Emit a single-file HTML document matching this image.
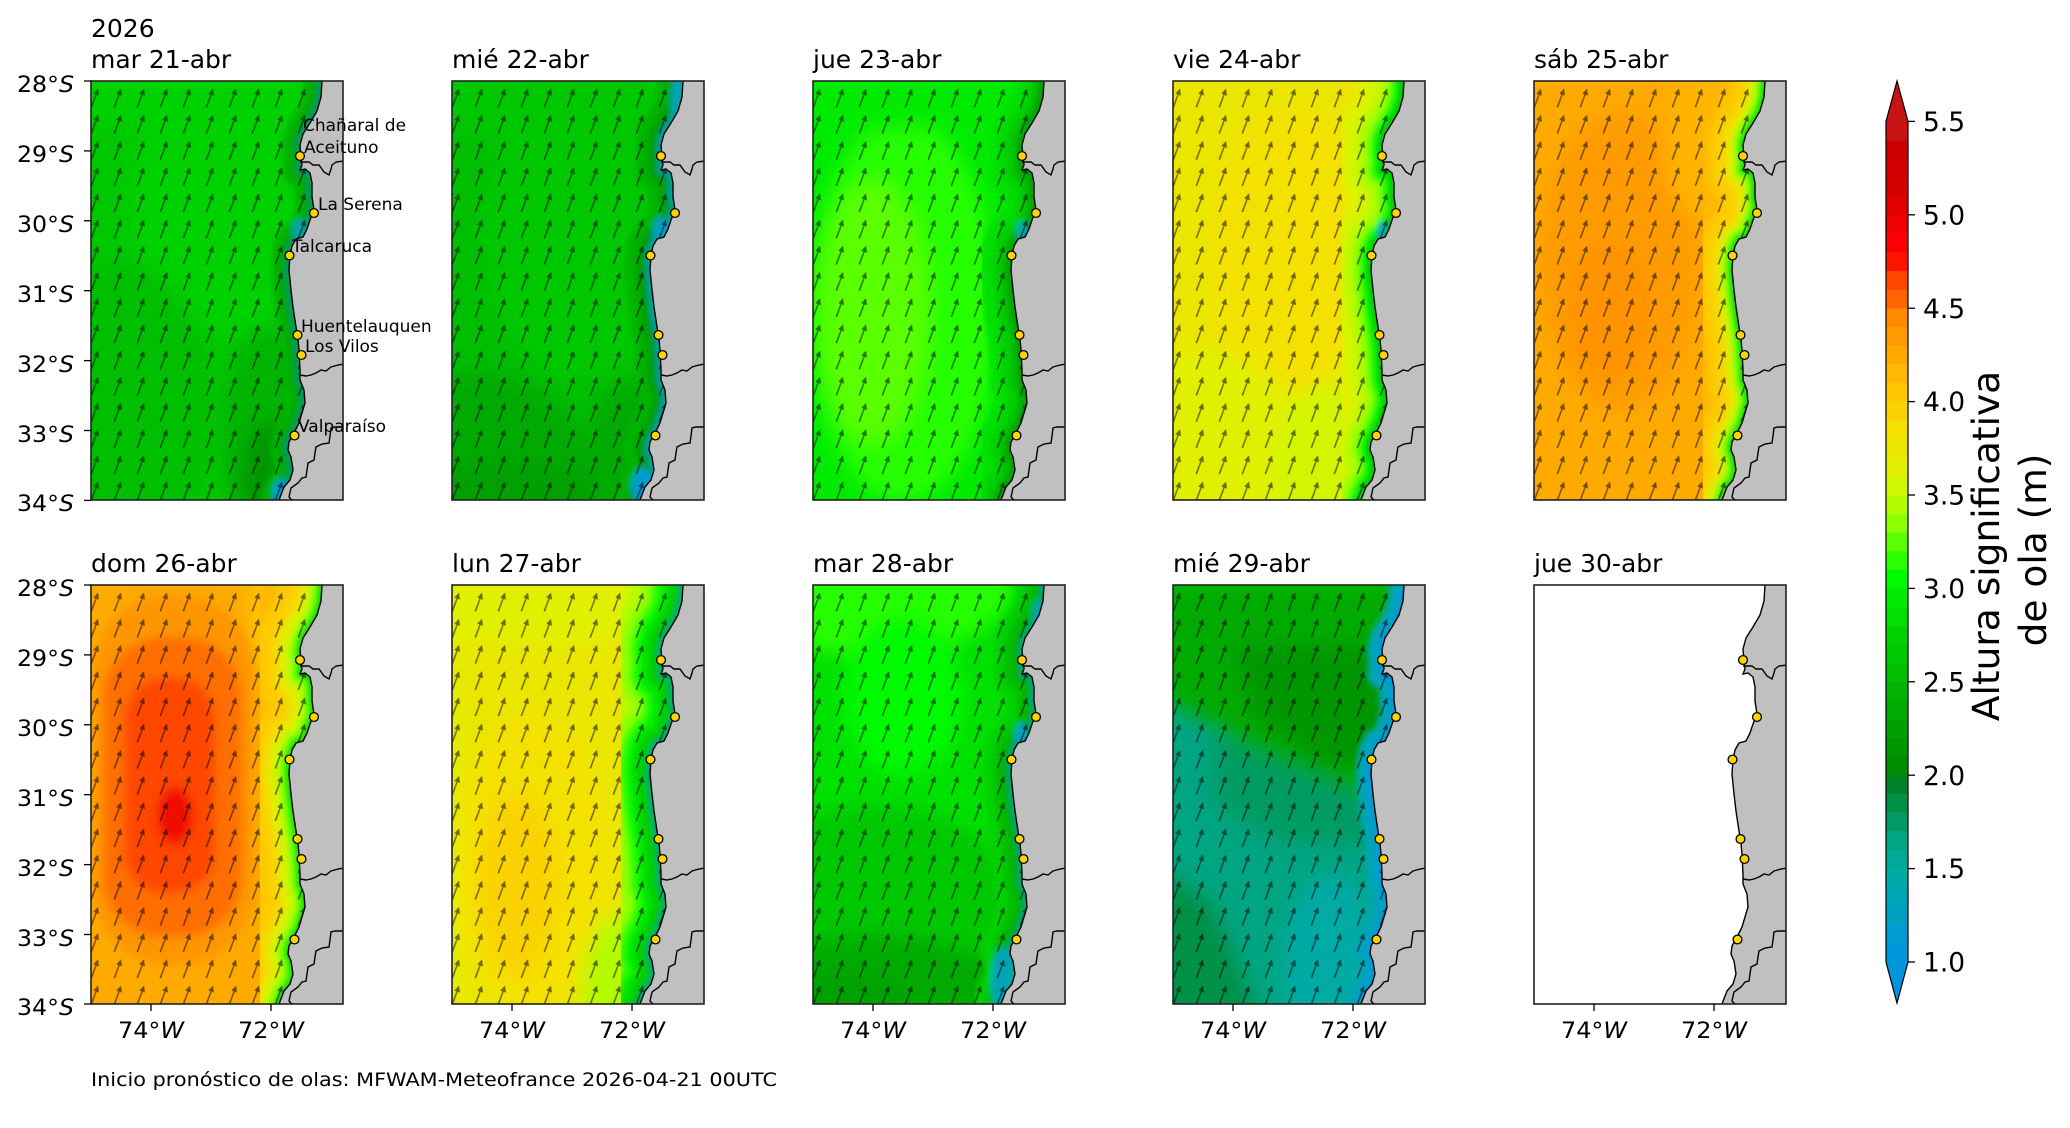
<!DOCTYPE html>
<html><head><meta charset="utf-8"><style>
html,body{margin:0;padding:0;background:#fff;}
svg{display:block;}
text{font-family:"DejaVu Sans","Liberation Sans",sans-serif;fill:#000;}
</style></head><body>
<svg width="2070" height="1128" viewBox="0 0 2070 1128" xmlns="http://www.w3.org/2000/svg">
<defs>
<clipPath id="cp"><rect x="0" y="0" width="252" height="419"/></clipPath>
<filter id="bl" x="-60%" y="-60%" width="220%" height="220%"><feGaussianBlur stdDeviation="10"/></filter>
<filter id="bm" x="-60%" y="-60%" width="220%" height="220%"><feGaussianBlur stdDeviation="5"/></filter>
<filter id="bs" x="-30%" y="-30%" width="160%" height="160%"><feGaussianBlur stdDeviation="3"/></filter>
<pattern id="ar" patternUnits="userSpaceOnUse" x="20.3" y="2" width="23" height="26.2">
<polygon points="2.25,24.02 7.14,11.32 5.04,10.55 9.7,5.5 10.68,12.61 8.35,11.87 3.75,24.58" fill="#000" fill-opacity="0.55"/>
</pattern>
<path id="cst" d="M233,-20 L231,0 L230,16 L226,30 L219,42 L212,53 L209,64 L210,76 L211,84 L209,89 L214,88 L219,92 L221,102 L221,116 L223,129 L219,139 L216,148 L212,156 L205,158 L201,165 L199,175 L198,189 L200,209 L202,226 L205,246 L207,258 L208,269 L209,289 L209,299 L213,309 L214,322 L211,332 L208,342 L203,352 L198,361 L197,369 L200,376 L202,389 L199,399 L193,406 L188,419 L184,440"/>
<path id="lnd" d="M233,-20 L231,0 L230,16 L226,30 L219,42 L212,53 L209,64 L210,76 L211,84 L209,89 L214,88 L219,92 L221,102 L221,116 L223,129 L219,139 L216,148 L212,156 L205,158 L201,165 L199,175 L198,189 L200,209 L202,226 L205,246 L207,258 L208,269 L209,289 L209,299 L213,309 L214,322 L211,332 L208,342 L203,352 L198,361 L197,369 L200,376 L202,389 L199,399 L193,406 L188,419 L184,440 L280,440 L280,-20 Z"/>
<path id="brd" d="M209,81 L218,81 L222,84 L228,84 L233,91 L238,94 L240,88 L241,84 L245,81 L253,80 M209,294 L215,295 L220,294 L225,292 L230,289 L235,290 L240,286 L247,284 L253,283 M253,346 L244,346 L240,347 L239,355 L238,362 L231,363 L225,366 L224,372 L223,379 L217,382 L216,389 L215,396 L211,397 L207,402 L200,407 L198,416 L202,420"/>
<g id="ovl">
<use href="#lnd" fill="#c0c0c0"/>
<use href="#cst" fill="none" stroke="#000" stroke-width="1.4"/>
<use href="#brd" fill="none" stroke="#000" stroke-width="1.4"/>
<g fill="#ffd400" stroke="#000" stroke-width="1.3">
<circle cx="209" cy="75" r="4.4"/>
<circle cx="223" cy="132" r="4.4"/>
<circle cx="198.5" cy="174.5" r="4.4"/>
<circle cx="206.5" cy="254" r="4.4"/>
<circle cx="210.5" cy="274" r="4.4"/>
<circle cx="203.5" cy="354.5" r="4.4"/>
</g>
</g>
<rect id="arw" x="0" y="0" width="252" height="419" fill="url(#ar)"/>
<rect id="frm" x="0" y="0" width="252" height="419" fill="none" stroke="#222" stroke-width="1.6"/>
</defs>

<!-- ============ Row 1 ============ -->
<!-- Panel 1 -->
<g transform="translate(91,81)">
<g clip-path="url(#cp)">
<rect width="252" height="419" fill="#00c800"/>
<g filter="url(#bl)">
<ellipse cx="140" cy="120" rx="100" ry="130" fill="#00d200"/>
<ellipse cx="100" cy="5" rx="160" ry="40" fill="#00d200"/>
<ellipse cx="30" cy="330" rx="90" ry="150" fill="#00be00"/>
<ellipse cx="175" cy="360" rx="45" ry="110" fill="#00b400"/>
<ellipse cx="180" cy="400" rx="30" ry="60" fill="#009600"/>
</g>
<g fill="none" stroke-linejoin="round" filter="url(#bs)">
<use href="#cst" stroke="#00b400" stroke-width="36"/>
<use href="#cst" stroke="#00a000" stroke-width="18"/>
<use href="#cst" stroke="#009b64" stroke-width="8"/>
<ellipse cx="208" cy="148" rx="6" ry="10" fill="#00a5b4"/>
<ellipse cx="190" cy="412" rx="8" ry="14" fill="#009bd2"/>
</g>
<use href="#arw"/>
<use href="#ovl"/>
</g>
<use href="#frm"/>
</g>

<!-- Panel 2 -->
<g transform="translate(452,81)">
<g clip-path="url(#cp)">
<rect width="252" height="419" fill="#00be00"/>
<g filter="url(#bl)">
<ellipse cx="130" cy="150" rx="100" ry="150" fill="#00c800"/>
<ellipse cx="100" cy="10" rx="160" ry="50" fill="#00c800"/>
<ellipse cx="20" cy="400" rx="120" ry="110" fill="#00aa00"/>
<ellipse cx="60" cy="430" rx="120" ry="50" fill="#00a000"/>
<ellipse cx="175" cy="380" rx="40" ry="80" fill="#00aa00"/>
</g>
<g fill="none" stroke-linejoin="round" filter="url(#bs)">
<use href="#cst" stroke="#00b400" stroke-width="50"/>
<use href="#cst" stroke="#00a000" stroke-width="28"/>
<use href="#cst" stroke="#009146" stroke-width="12"/>
<use href="#cst" stroke="#00a5b4" stroke-width="6"/>
<ellipse cx="209" cy="150" rx="8" ry="14" fill="#00a0c3"/>
<ellipse cx="225" cy="20" rx="6" ry="25" fill="#00a5b4"/>
<ellipse cx="190" cy="405" rx="10" ry="18" fill="#009bd2"/>
</g>
<use href="#arw"/>
<use href="#ovl"/>
</g>
<use href="#frm"/>
</g>

<!-- Panel 3 -->
<g transform="translate(813,81)">
<g clip-path="url(#cp)">
<rect width="252" height="419" fill="#00eb00"/>
<g filter="url(#bl)">
<ellipse cx="90" cy="230" rx="95" ry="190" fill="#28ff00"/>
<ellipse cx="60" cy="230" rx="55" ry="130" fill="#5aff00"/>
<ellipse cx="60" cy="0" rx="150" ry="50" fill="#00eb00"/>
</g>
<g fill="none" stroke-linejoin="round" filter="url(#bs)">
<use href="#cst" stroke="#00e100" stroke-width="64"/>
<use href="#cst" stroke="#00d200" stroke-width="40"/>
<use href="#cst" stroke="#00be00" stroke-width="22"/>
<use href="#cst" stroke="#00a000" stroke-width="10"/>
<ellipse cx="209" cy="150" rx="5" ry="10" fill="#00a5b4"/>
</g>
<use href="#arw"/>
<use href="#ovl"/>
</g>
<use href="#frm"/>
</g>

<!-- Panel 4 -->
<g transform="translate(1173,81)">
<g clip-path="url(#cp)">
<rect width="252" height="419" fill="#ebe600"/>
<g filter="url(#bl)">
<ellipse cx="120" cy="170" rx="80" ry="140" fill="#f5e100"/>
<ellipse cx="30" cy="380" rx="110" ry="110" fill="#e1f000"/>
<ellipse cx="160" cy="400" rx="60" ry="100" fill="#d2f500"/>
</g>
<g fill="none" stroke-linejoin="round" filter="url(#bs)">
<use href="#cst" stroke="#e1f000" stroke-width="90"/>
<use href="#cst" stroke="#d2f500" stroke-width="70"/>
<use href="#cst" stroke="#b4fa00" stroke-width="50"/>
<use href="#cst" stroke="#8cff00" stroke-width="36"/>
<use href="#cst" stroke="#28ff00" stroke-width="26"/>
<use href="#cst" stroke="#00eb00" stroke-width="16"/>
<use href="#cst" stroke="#00c800" stroke-width="8"/>
<ellipse cx="209" cy="150" rx="5" ry="10" fill="#00a5b4"/>
</g>
<use href="#arw"/>
<use href="#ovl"/>
</g>
<use href="#frm"/>
</g>

<!-- Panel 5 -->
<g transform="translate(1534,81)">
<g clip-path="url(#cp)">
<rect width="252" height="419" fill="#ffaa00"/>
<g filter="url(#bl)">
<ellipse cx="85" cy="180" rx="80" ry="150" fill="#ff9b00"/>
<ellipse cx="75" cy="230" rx="40" ry="70" fill="#ff9300"/>
<ellipse cx="170" cy="60" rx="40" ry="80" fill="#ffb400"/>
</g>
<g fill="none" stroke-linejoin="round" filter="url(#bs)">
<use href="#cst" stroke="#ffb900" stroke-width="90"/>
<use href="#cst" stroke="#ffc800" stroke-width="70"/>
<use href="#cst" stroke="#fad200" stroke-width="52"/>
<use href="#cst" stroke="#ebe600" stroke-width="36"/>
<use href="#cst" stroke="#b4fa00" stroke-width="24"/>
<use href="#cst" stroke="#28ff00" stroke-width="14"/>
<use href="#cst" stroke="#00d200" stroke-width="6"/>
</g>
<use href="#arw"/>
<use href="#ovl"/>
</g>
<use href="#frm"/>
</g>

<!-- ============ Row 2 ============ -->
<!-- Panel 6 -->
<g transform="translate(91,585)">
<g clip-path="url(#cp)">
<rect width="252" height="419" fill="#ffaa00"/>
<g filter="url(#bl)">
<ellipse cx="200" cy="30" rx="40" ry="90" fill="#ffc800"/>
</g>
<g filter="url(#bm)">
<rect x="2" y="10" width="160" height="370" rx="75" fill="#ff9600"/>
<rect x="12" y="52" width="139" height="300" rx="60" fill="#ff6e00"/>
<rect x="34" y="93" width="90" height="215" rx="40" fill="#ff4600"/>
<ellipse cx="84" cy="231" rx="18" ry="29" fill="#f01000"/>
</g>
<g fill="none" stroke-linejoin="round" filter="url(#bs)">
<use href="#cst" stroke="#ffb900" stroke-width="120"/>
<use href="#cst" stroke="#ffc800" stroke-width="90"/>
<use href="#cst" stroke="#fad200" stroke-width="64"/>
<use href="#cst" stroke="#ebe600" stroke-width="48"/>
<use href="#cst" stroke="#d2f500" stroke-width="34"/>
<use href="#cst" stroke="#8cff00" stroke-width="22"/>
<use href="#cst" stroke="#28ff00" stroke-width="12"/>
<use href="#cst" stroke="#00d200" stroke-width="6"/>
</g>
<use href="#arw"/>
<use href="#ovl"/>
</g>
<use href="#frm"/>
</g>

<!-- Panel 7 -->
<g transform="translate(452,585)">
<g clip-path="url(#cp)">
<rect width="252" height="419" fill="#ebe600"/>
<g filter="url(#bl)">
<ellipse cx="80" cy="280" rx="75" ry="150" fill="#f5e100"/>
<ellipse cx="65" cy="300" rx="40" ry="90" fill="#fad200"/>
<ellipse cx="100" cy="0" rx="170" ry="60" fill="#e1f000"/>
<rect x="-20" y="0" width="25" height="419" fill="#e1f000"/>
<ellipse cx="165" cy="410" rx="35" ry="80" fill="#b4fa00"/>
</g>
<g fill="none" stroke-linejoin="round" filter="url(#bs)">
<use href="#cst" stroke="#e1f000" stroke-width="156"/>
<use href="#cst" stroke="#d2f500" stroke-width="128"/>
<use href="#cst" stroke="#b4fa00" stroke-width="102"/>
<use href="#cst" stroke="#8cff00" stroke-width="80"/>
<use href="#cst" stroke="#28ff00" stroke-width="62"/>
<use href="#cst" stroke="#00eb00" stroke-width="46"/>
<use href="#cst" stroke="#00d200" stroke-width="30"/>
<use href="#cst" stroke="#00be00" stroke-width="14"/>
<use href="#cst" stroke="#00a582" stroke-width="6"/>
</g>
<use href="#arw"/>
<use href="#ovl"/>
</g>
<use href="#frm"/>
</g>

<!-- Panel 8 -->
<g transform="translate(813,585)">
<g clip-path="url(#cp)">
<rect width="252" height="419" fill="#00e100"/>
<g filter="url(#bl)">
<ellipse cx="60" cy="0" rx="140" ry="70" fill="#28ff00"/>
<ellipse cx="90" cy="110" rx="60" ry="80" fill="#00fa00"/>
<ellipse cx="60" cy="330" rx="150" ry="110" fill="#00c800"/>
<ellipse cx="60" cy="410" rx="140" ry="60" fill="#00aa00"/>
<ellipse cx="20" cy="419" rx="80" ry="30" fill="#00a000"/>
</g>
<g fill="none" stroke-linejoin="round" filter="url(#bs)">
<use href="#cst" stroke="#00d200" stroke-width="56"/>
<use href="#cst" stroke="#00be00" stroke-width="36"/>
<use href="#cst" stroke="#00aa00" stroke-width="18"/>
<use href="#cst" stroke="#00a582" stroke-width="6"/>
<ellipse cx="190" cy="395" rx="12" ry="32" fill="#00a5b4"/>
<ellipse cx="208" cy="150" rx="6" ry="12" fill="#00a0c3"/>
<ellipse cx="225" cy="30" rx="5" ry="15" fill="#00a5b4"/>
</g>
<use href="#arw"/>
<use href="#ovl"/>
</g>
<use href="#frm"/>
</g>

<!-- Panel 9 -->
<g transform="translate(1173,585)">
<g clip-path="url(#cp)">
<rect width="252" height="419" fill="#00a582"/>
<g filter="url(#bl)">
<rect x="-20" y="-20" width="300" height="70" fill="#00be00"/>
<polygon points="-20,0 260,0 260,210 200,215 120,200 40,140 -20,110" fill="#00aa00"/>
<polygon points="60,60 230,60 230,190 150,180 80,130" fill="#009600"/>
<polygon points="40,150 200,215 200,260 100,255 40,220" fill="#009b64"/>
<polygon points="-20,280 40,320 90,440 -20,440" fill="#009146"/>
<ellipse cx="160" cy="380" rx="50" ry="90" fill="#00aaa5"/>
</g>
<g fill="none" stroke-linejoin="round" filter="url(#bs)">
<use href="#cst" stroke="#00a5b4" stroke-width="30"/>
<use href="#cst" stroke="#009bd2" stroke-width="12"/>
</g>
<use href="#arw"/>
<use href="#ovl"/>
</g>
<use href="#frm"/>
</g>

<!-- Panel 10 -->
<g transform="translate(1534,585)">
<g clip-path="url(#cp)">
<rect width="252" height="419" fill="#ffffff"/>
<use href="#ovl"/>
</g>
<use href="#frm"/>
</g>

<!-- ============ Titles ============ -->
<g font-size="25">
<text x="91" y="37">2026</text>
<text x="91" y="68">mar 21-abr</text>
<text x="452" y="68">mié 22-abr</text>
<text x="813" y="68">jue 23-abr</text>
<text x="1173" y="68">vie 24-abr</text>
<text x="1534" y="68">sáb 25-abr</text>
<text x="91" y="572">dom 26-abr</text>
<text x="452" y="572">lun 27-abr</text>
<text x="813" y="572">mar 28-abr</text>
<text x="1173" y="572">mié 29-abr</text>
<text x="1534" y="572">jue 30-abr</text>
</g>

<!-- Station labels -->
<g font-size="17">
<text x="303" y="131">Chañaral de</text>
<text x="304" y="153">Aceituno</text>
<text x="318" y="210">La Serena</text>
<text x="292" y="252">Talcaruca</text>
<text x="301" y="332">Huentelauquen</text>
<text x="305" y="352">Los Vilos</text>
<text x="298" y="432">Valparaíso</text>
</g>

<!-- Y ticks -->
<g stroke="#000" stroke-width="1.3">
<line x1="84" y1="81" x2="91" y2="81"/><line x1="84" y1="150.9" x2="91" y2="150.9"/><line x1="84" y1="220.8" x2="91" y2="220.8"/><line x1="84" y1="290.7" x2="91" y2="290.7"/><line x1="84" y1="360.6" x2="91" y2="360.6"/><line x1="84" y1="430.5" x2="91" y2="430.5"/><line x1="84" y1="500.4" x2="91" y2="500.4"/>
<line x1="84" y1="585" x2="91" y2="585"/><line x1="84" y1="654.9" x2="91" y2="654.9"/><line x1="84" y1="724.8" x2="91" y2="724.8"/><line x1="84" y1="794.7" x2="91" y2="794.7"/><line x1="84" y1="864.6" x2="91" y2="864.6"/><line x1="84" y1="934.5" x2="91" y2="934.5"/><line x1="84" y1="1004" x2="91" y2="1004"/>
</g>
<g font-size="22">
<text x="17" y="92" textLength="57" lengthAdjust="spacingAndGlyphs">28°<tspan font-style="italic">S</tspan></text>
<text x="17" y="162" textLength="57" lengthAdjust="spacingAndGlyphs">29°<tspan font-style="italic">S</tspan></text>
<text x="17" y="232" textLength="57" lengthAdjust="spacingAndGlyphs">30°<tspan font-style="italic">S</tspan></text>
<text x="17" y="302" textLength="57" lengthAdjust="spacingAndGlyphs">31°<tspan font-style="italic">S</tspan></text>
<text x="17" y="372" textLength="57" lengthAdjust="spacingAndGlyphs">32°<tspan font-style="italic">S</tspan></text>
<text x="17" y="442" textLength="57" lengthAdjust="spacingAndGlyphs">33°<tspan font-style="italic">S</tspan></text>
<text x="17" y="511" textLength="57" lengthAdjust="spacingAndGlyphs">34°<tspan font-style="italic">S</tspan></text>
<text x="17" y="596" textLength="57" lengthAdjust="spacingAndGlyphs">28°<tspan font-style="italic">S</tspan></text>
<text x="17" y="666" textLength="57" lengthAdjust="spacingAndGlyphs">29°<tspan font-style="italic">S</tspan></text>
<text x="17" y="736" textLength="57" lengthAdjust="spacingAndGlyphs">30°<tspan font-style="italic">S</tspan></text>
<text x="17" y="806" textLength="57" lengthAdjust="spacingAndGlyphs">31°<tspan font-style="italic">S</tspan></text>
<text x="17" y="876" textLength="57" lengthAdjust="spacingAndGlyphs">32°<tspan font-style="italic">S</tspan></text>
<text x="17" y="946" textLength="57" lengthAdjust="spacingAndGlyphs">33°<tspan font-style="italic">S</tspan></text>
<text x="17" y="1015" textLength="57" lengthAdjust="spacingAndGlyphs">34°<tspan font-style="italic">S</tspan></text>
</g>

<!-- X ticks -->
<g stroke="#000" stroke-width="1.3">
<line x1="151" y1="1004" x2="151" y2="1011"/><line x1="271" y1="1004" x2="271" y2="1011"/>
<line x1="512" y1="1004" x2="512" y2="1011"/><line x1="632" y1="1004" x2="632" y2="1011"/>
<line x1="873" y1="1004" x2="873" y2="1011"/><line x1="993" y1="1004" x2="993" y2="1011"/>
<line x1="1233" y1="1004" x2="1233" y2="1011"/><line x1="1353" y1="1004" x2="1353" y2="1011"/>
<line x1="1594" y1="1004" x2="1594" y2="1011"/><line x1="1714" y1="1004" x2="1714" y2="1011"/>
</g>
<g font-size="22">
<text x="118" y="1038" textLength="66" lengthAdjust="spacingAndGlyphs">74°<tspan font-style="italic">W</tspan></text>
<text x="238" y="1038" textLength="66" lengthAdjust="spacingAndGlyphs">72°<tspan font-style="italic">W</tspan></text>
<text x="479" y="1038" textLength="66" lengthAdjust="spacingAndGlyphs">74°<tspan font-style="italic">W</tspan></text>
<text x="599" y="1038" textLength="66" lengthAdjust="spacingAndGlyphs">72°<tspan font-style="italic">W</tspan></text>
<text x="840" y="1038" textLength="66" lengthAdjust="spacingAndGlyphs">74°<tspan font-style="italic">W</tspan></text>
<text x="960" y="1038" textLength="66" lengthAdjust="spacingAndGlyphs">72°<tspan font-style="italic">W</tspan></text>
<text x="1200" y="1038" textLength="66" lengthAdjust="spacingAndGlyphs">74°<tspan font-style="italic">W</tspan></text>
<text x="1320" y="1038" textLength="66" lengthAdjust="spacingAndGlyphs">72°<tspan font-style="italic">W</tspan></text>
<text x="1561" y="1038" textLength="66" lengthAdjust="spacingAndGlyphs">74°<tspan font-style="italic">W</tspan></text>
<text x="1681" y="1038" textLength="66" lengthAdjust="spacingAndGlyphs">72°<tspan font-style="italic">W</tspan></text>
</g>

<!-- Footer -->
<text x="91" y="1086" font-size="18.75" textLength="686" lengthAdjust="spacingAndGlyphs">Inicio pronóstico de olas: MFWAM-Meteofrance 2026-04-21 00UTC</text>

<!-- ============ Colorbar ============ -->
<g>
<rect x="1886" y="943.32" width="22" height="18.9" fill="#0096dc"/>
<rect x="1886" y="924.64" width="22" height="18.9" fill="#009bd2"/>
<rect x="1886" y="905.96" width="22" height="18.9" fill="#00a0c3"/>
<rect x="1886" y="887.28" width="22" height="18.9" fill="#00a5b4"/>
<rect x="1886" y="868.6" width="22" height="18.9" fill="#00aaa5"/>
<rect x="1886" y="849.92" width="22" height="18.9" fill="#00aa96"/>
<rect x="1886" y="831.24" width="22" height="18.9" fill="#00a582"/>
<rect x="1886" y="812.56" width="22" height="18.9" fill="#009b64"/>
<rect x="1886" y="793.88" width="22" height="18.9" fill="#009146"/>
<rect x="1886" y="775.2" width="22" height="18.9" fill="#008228"/>
<rect x="1886" y="756.52" width="22" height="18.9" fill="#008c00"/>
<rect x="1886" y="737.84" width="22" height="18.9" fill="#009600"/>
<rect x="1886" y="719.16" width="22" height="18.9" fill="#00a000"/>
<rect x="1886" y="700.48" width="22" height="18.9" fill="#00aa00"/>
<rect x="1886" y="681.8" width="22" height="18.9" fill="#00b400"/>
<rect x="1886" y="663.12" width="22" height="18.9" fill="#00be00"/>
<rect x="1886" y="644.44" width="22" height="18.9" fill="#00c800"/>
<rect x="1886" y="625.76" width="22" height="18.9" fill="#00d200"/>
<rect x="1886" y="607.08" width="22" height="18.9" fill="#00e100"/>
<rect x="1886" y="588.4" width="22" height="18.9" fill="#00eb00"/>
<rect x="1886" y="569.72" width="22" height="18.9" fill="#00fa00"/>
<rect x="1886" y="551.04" width="22" height="18.9" fill="#28ff00"/>
<rect x="1886" y="532.36" width="22" height="18.9" fill="#5aff00"/>
<rect x="1886" y="513.68" width="22" height="18.9" fill="#8cff00"/>
<rect x="1886" y="495" width="22" height="18.9" fill="#b4fa00"/>
<rect x="1886" y="476.32" width="22" height="18.9" fill="#d2f500"/>
<rect x="1886" y="457.64" width="22" height="18.9" fill="#e1f000"/>
<rect x="1886" y="438.96" width="22" height="18.9" fill="#ebe600"/>
<rect x="1886" y="420.28" width="22" height="18.9" fill="#f5e100"/>
<rect x="1886" y="401.6" width="22" height="18.9" fill="#fad200"/>
<rect x="1886" y="382.92" width="22" height="18.9" fill="#ffc800"/>
<rect x="1886" y="364.24" width="22" height="18.9" fill="#ffb900"/>
<rect x="1886" y="345.56" width="22" height="18.9" fill="#ffaa00"/>
<rect x="1886" y="326.88" width="22" height="18.9" fill="#ff9b00"/>
<rect x="1886" y="308.2" width="22" height="18.9" fill="#ff8c00"/>
<rect x="1886" y="289.52" width="22" height="18.9" fill="#ff6400"/>
<rect x="1886" y="270.84" width="22" height="18.9" fill="#ff4600"/>
<rect x="1886" y="252.16" width="22" height="18.9" fill="#ff1400"/>
<rect x="1886" y="233.48" width="22" height="18.9" fill="#fa0000"/>
<rect x="1886" y="214.8" width="22" height="18.9" fill="#f00000"/>
<rect x="1886" y="196.12" width="22" height="18.9" fill="#e10000"/>
<rect x="1886" y="177.44" width="22" height="18.9" fill="#d70000"/>
<rect x="1886" y="158.76" width="22" height="18.9" fill="#d20000"/>
<rect x="1886" y="140.08" width="22" height="18.9" fill="#cd0000"/>
<rect x="1886" y="121.4" width="22" height="18.9" fill="#c81414"/>
<polygon points="1886,121.6 1908,121.6 1897,81" fill="#c81414"/>
<polygon points="1886,962 1908,962 1897,1003" fill="#0096dc"/>
<polygon points="1886,121.4 1897,81 1908,121.4 1908,962 1897,1003 1886,962" fill="none" stroke="#000" stroke-width="1.2"/>
</g>
<g stroke="#000" stroke-width="1.3">
<line x1="1908" y1="962" x2="1915" y2="962"/><line x1="1908" y1="868.6" x2="1915" y2="868.6"/><line x1="1908" y1="775.2" x2="1915" y2="775.2"/><line x1="1908" y1="681.8" x2="1915" y2="681.8"/><line x1="1908" y1="588.4" x2="1915" y2="588.4"/><line x1="1908" y1="495" x2="1915" y2="495"/><line x1="1908" y1="401.6" x2="1915" y2="401.6"/><line x1="1908" y1="308.2" x2="1915" y2="308.2"/><line x1="1908" y1="214.8" x2="1915" y2="214.8"/><line x1="1908" y1="121.4" x2="1915" y2="121.4"/>
</g>
<g font-size="26.5">
<text x="1923" y="971.6">1.0</text>
<text x="1923" y="878.2">1.5</text>
<text x="1923" y="784.8">2.0</text>
<text x="1923" y="691.4">2.5</text>
<text x="1923" y="598">3.0</text>
<text x="1923" y="504.6">3.5</text>
<text x="1923" y="411.2">4.0</text>
<text x="1923" y="317.8">4.5</text>
<text x="1923" y="224.4">5.0</text>
<text x="1923" y="131">5.5</text>
</g>
<g font-size="37.5" text-anchor="middle">
<text transform="translate(1999,546) rotate(-90)">Altura significativa</text>
<text transform="translate(2046,550) rotate(-90)">de ola (m)</text>
</g>
</svg>
</body></html>
